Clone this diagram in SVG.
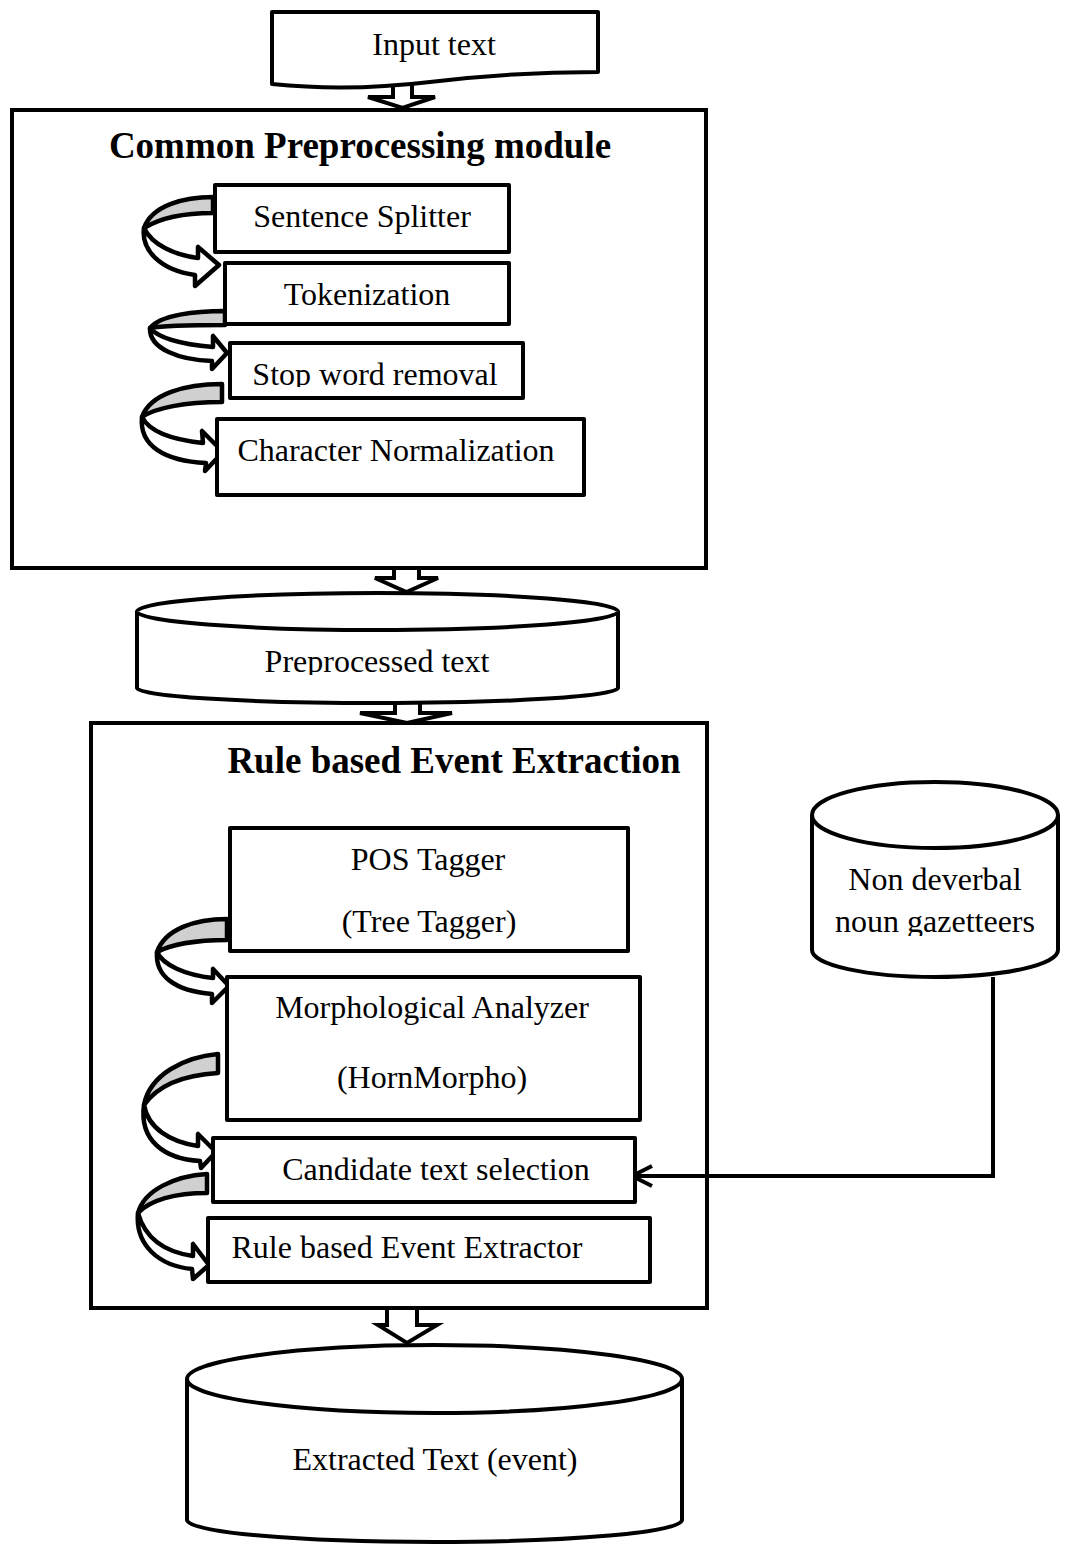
<svg xmlns="http://www.w3.org/2000/svg" width="1072" height="1551" viewBox="0 0 1072 1551">
<defs>
<style>
.bx{fill:#fff;stroke:#000;stroke-width:4;stroke-linejoin:round}
.ct{fill:none;stroke:#000;stroke-width:4}
.t{font-family:"Liberation Serif","Times New Roman",serif;font-size:32px;fill:#000;text-anchor:middle}
.h{font-family:"Liberation Serif","Times New Roman",serif;font-size:37px;font-weight:bold;fill:#000;text-anchor:middle}
.ha{fill:#fff;stroke:#000;stroke-width:4;stroke-linejoin:miter}
.cw{fill:#fff;stroke:#000;stroke-width:4.5;stroke-linejoin:round}
.cg{fill:#d0d0d0;stroke:#000;stroke-width:4.5;stroke-linejoin:round}
.ln{fill:none;stroke:#000;stroke-width:4}
</style>
<marker id="open" viewBox="0 0 24 24" refX="22" refY="12" markerWidth="24" markerHeight="24" markerUnits="userSpaceOnUse" orient="auto">
<path d="M2,2 L22,12 L2,22" fill="none" stroke="#000" stroke-width="4"/>
</marker>
<clipPath id="c1"><rect x="228" y="341" width="300" height="46"/></clipPath>
<clipPath id="c2"><rect x="135" y="620" width="490" height="55"/></clipPath>
<clipPath id="c3"><rect x="810" y="850" width="250" height="86"/></clipPath>
</defs>
<rect width="1072" height="1551" fill="#fff"/>

<g id="common-preprocessing">
<rect class="ct" x="12" y="110" width="694" height="458"/>
<text class="h" x="360" y="158">Common Preprocessing module</text>
</g>
<g id="rule-based-extraction">
<rect class="ct" x="91" y="723" width="616" height="585"/>
<text class="h" x="454" y="773">Rule based Event Extraction</text>
</g>

<g id="connectors">
<path class="ha" d="M393,84 V97 H368 L402.5,108 L435,97 H412 V84 Z"/>
<path class="ha" d="M394,568 V578 H375 L406.5,592 L438,578 H419 V568 Z"/>
<path class="ha" d="M395,698 V713 H360 L407,723 L452,713 H420 V698 Z"/>
<path class="ha" d="M387,1308 V1325 H378 L407,1343 L437,1325 H417 V1308 Z"/>
<path class="ln" d="M993,977 V1176 H632" marker-end="url(#open)"/>
<path class="cw" d="M144,228 C141,250 160,270 195,275 L195,286 L219,265 L198,247 L198,258 C175,255 152,245 144,228 Z"/>
<path class="cg" d="M213,197 C185,197 152,205 144,228 C160,218 185,213 213,213 Z"/>
<path class="cw" d="M150,328 C149,349 180,360 212,361 L212,369 L227,353 L213,336 L213,347 C190,345 160,340 150,328 Z"/>
<path class="cg" d="M225,311 C195,311 160,315 150,328 C165,325 195,325 225,325 Z"/>
<path class="cw" d="M142,417 C139,446 165,461 206,463 L205,471 L223,452 L202,431 L203,443 C175,440 150,433 142,417 Z"/>
<path class="cg" d="M222,384 C185,384 150,394 142,417 C155,408 185,402 222,402 Z"/>
<path class="cw" d="M157,952 C155,976 175,991 212,994 L212,1003 L229,986 L213,969 L213,978 C185,975 163,965 157,952 Z"/>
<path class="cg" d="M227,919 C195,919 165,929 157,952 C170,945 195,940 227,940 Z"/>
<path class="cw" d="M144,1105 C139,1141 165,1159 200,1161 L201,1168 L216,1152 L198,1134 L198,1146 C170,1142 148,1128 144,1105 Z"/>
<path class="cg" d="M218,1054 C185,1057 150,1074 144,1105 C158,1085 185,1075 218,1073 Z"/>
<path class="cw" d="M138,1213 C135,1246 160,1266 192,1269 L193,1279 L209,1265 L193,1244 L193,1256 C165,1252 145,1238 138,1213 Z"/>
<path class="cg" d="M207,1174 C175,1176 144,1190 138,1213 C150,1200 175,1193 207,1193 Z"/>
</g>

<g id="input-text">
<path class="bx" d="M272,12 H598 V72 C540,72 480,76 430,82 C380,88 330,90 272,84 Z"/>
<text class="t" x="434" y="55">Input text</text>
</g>
<g id="sentence-splitter">
<rect class="bx" x="215" y="185" width="294" height="67"/>
<text class="t" x="362" y="227">Sentence Splitter</text>
</g>
<g id="tokenization">
<rect class="bx" x="225" y="263" width="284" height="61"/>
<text class="t" x="367" y="305">Tokenization</text>
</g>
<g id="stop-word-removal">
<rect class="bx" x="230" y="343" width="293" height="55"/>
<text class="t" x="375" y="385" clip-path="url(#c1)">Stop word removal</text>
</g>
<g id="character-normalization">
<rect class="bx" x="217" y="419" width="367" height="76"/>
<text class="t" x="396" y="461">Character Normalization</text>
</g>
<g id="preprocessed-text">
<path class="bx" d="M137,611.5 A240.5,18.5 0 0 1 618,611.5 V688 A240.5,15 0 0 1 137,688 Z"/>
<path class="bx" d="M137,611.5 A240.5,18.5 0 0 0 618,611.5"/>
<text class="t" x="377" y="672" clip-path="url(#c2)">Preprocessed text</text>
</g>
<g id="pos-tagger">
<rect class="bx" x="230" y="828" width="398" height="123"/>
<text class="t" x="428" y="870">POS Tagger</text>
<text class="t" x="429" y="932">(Tree Tagger)</text>
</g>
<g id="morphological-analyzer">
<rect class="bx" x="227" y="977" width="413" height="143"/>
<text class="t" x="432" y="1018">Morphological Analyzer</text>
<text class="t" x="432" y="1088">(HornMorpho)</text>
</g>
<g id="candidate-text-selection">
<rect class="bx" x="213" y="1138" width="422" height="64"/>
<text class="t" x="436" y="1180">Candidate text selection</text>
</g>
<g id="rule-based-event-extractor">
<rect class="bx" x="208" y="1218" width="442" height="64"/>
<text class="t" x="407" y="1258">Rule based Event Extractor</text>
</g>
<g id="non-deverbal-gazetteers">
<path class="bx" d="M812,815 A123,33 0 0 1 1058,815 V950 A123,27 0 0 1 812,950 Z"/>
<path class="bx" d="M812,815 A123,33 0 0 0 1058,815"/>
<text class="t" x="935" y="890">Non deverbal</text>
<text class="t" x="935" y="932" clip-path="url(#c3)">noun gazetteers</text>
</g>
<g id="extracted-text">
<path class="bx" d="M187,1379 A247.5,34 0 0 1 682,1379 V1520 A247.5,22 0 0 1 187,1520 Z"/>
<path class="bx" d="M187,1379 A247.5,34 0 0 0 682,1379"/>
<text class="t" x="435" y="1470">Extracted Text (event)</text>
</g>
</svg>
